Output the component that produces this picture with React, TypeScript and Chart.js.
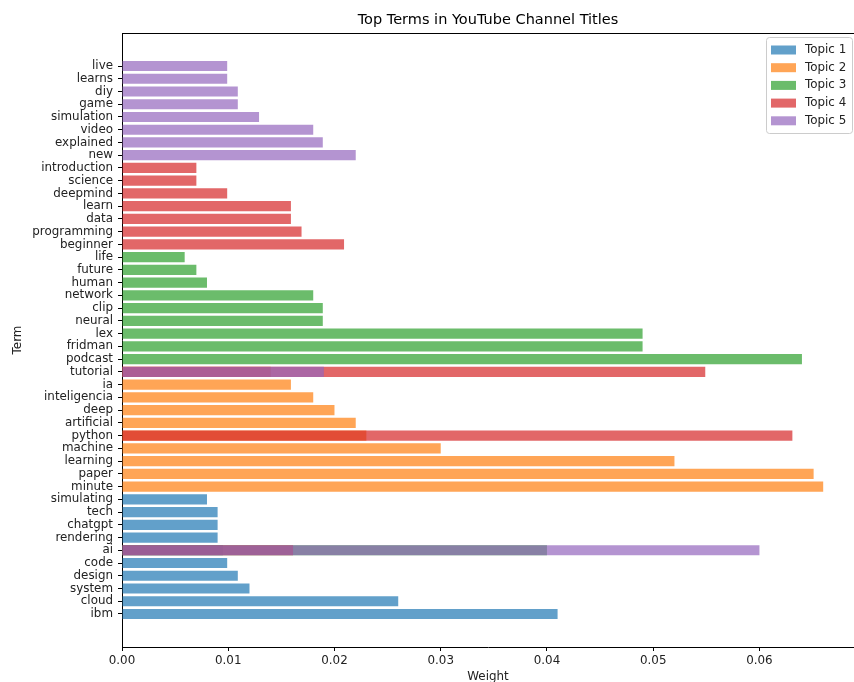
import { useEffect, useRef } from 'react';
import { Chart, registerables } from 'chart.js';

Chart.register(...registerables);

const topicNames = ['Topic 1', 'Topic 2', 'Topic 3', 'Topic 4', 'Topic 5'];
const topicColors = [
  'rgba(31,119,180,0.7)',
  'rgba(255,127,14,0.7)',
  'rgba(44,160,44,0.7)',
  'rgba(214,39,40,0.7)',
  'rgba(148,103,189,0.7)',
];

const topic1Terms = ['ibm', 'cloud', 'system', 'design', 'code', 'ai', 'rendering', 'chatgpt', 'tech', 'simulating'];
const topic1Weights = [0.041, 0.026, 0.012, 0.0109, 0.0099, 0.0095, 0.009, 0.009, 0.009, 0.008];

const topic2Terms = ['minute', 'paper', 'learning', 'machine', 'python', 'artificial', 'deep', 'inteligencia', 'ia', 'tutorial'];
const topic2Weights = [0.066, 0.0651, 0.052, 0.030, 0.023, 0.022, 0.020, 0.018, 0.0159, 0.014];

const topic3Terms = ['podcast', 'fridman', 'lex', 'ai', 'neural', 'clip', 'network', 'human', 'future', 'life'];
const topic3Weights = [0.064, 0.049, 0.049, 0.040, 0.0189, 0.0189, 0.018, 0.008, 0.007, 0.0059];

const topic4Terms = ['python', 'tutorial', 'beginner', 'programming', 'ai', 'data', 'learn', 'deepmind', 'science', 'introduction'];
const topic4Weights = [0.0631, 0.0549, 0.0209, 0.0169, 0.0161, 0.0159, 0.0159, 0.0099, 0.007, 0.007];

const topic5Terms = ['ai', 'new', 'tutorial', 'explained', 'video', 'simulation', 'game', 'diy', 'learns', 'live'];
const topic5Weights = [0.060, 0.022, 0.019, 0.0189, 0.018, 0.0129, 0.0109, 0.0109, 0.0099, 0.0099];

const xTickValues = [0, 0.01, 0.02, 0.03, 0.04, 0.05, 0.06];

const FONT_FAMILY = '"DejaVu Sans", sans-serif';
const TEXT_COLOR = '#222';

export default function App() {
  const canvasRef = useRef<HTMLCanvasElement>(null);

  useEffect(() => {
    document.body.style.margin = '0';
    const topics = [
      { terms: topic1Terms, weights: topic1Weights },
      { terms: topic2Terms, weights: topic2Weights },
      { terms: topic3Terms, weights: topic3Weights },
      { terms: topic4Terms, weights: topic4Weights },
      { terms: topic5Terms, weights: topic5Weights },
    ];
    const terms: string[] = [];
    topics.forEach((t) => t.terms.forEach((term) => { if (!terms.includes(term)) terms.push(term); }));

    const n = terms.length;
    const span = (n - 1) + 0.8;
    const yMin = -0.4 - 0.05 * span;
    const yMax = n - 1 + 0.4 + 0.05 * span;

    const datasets = topics.map((t, k) => ({
      label: topicNames[k],
      data: t.terms.map((term, j) => ({ x: t.weights[j], y: terms.indexOf(term) })),
      backgroundColor: topicColors[k],
      borderWidth: 0,
      grouped: false,
      order: topics.length - k,
      barPercentage: 0.8,
      categoryPercentage: 1,
    }));

    const tickFont = { family: FONT_FAMILY, size: 11.9 };

    const legendPlugin = {
      id: 'boxLegend',
      afterDraw(chart: any) {
        const { ctx, chartArea } = chart;
        const w = 86;
        const h = 96;
        const x0 = chartArea.right - w - 2;
        const y0 = chartArea.top + 4;
        ctx.save();
        ctx.beginPath();
        ctx.roundRect(x0 + 0.5, y0 + 0.5, w, h, 3);
        ctx.fillStyle = 'rgba(255,255,255,0.8)';
        ctx.fill();
        ctx.strokeStyle = '#cccccc';
        ctx.lineWidth = 1;
        ctx.stroke();
        chart.data.datasets.forEach((ds: any, i: number) => {
          const cy = y0 + 13 + i * 17.7;
          ctx.fillStyle = ds.backgroundColor;
          ctx.fillRect(x0 + 5, cy - 4.5, 25, 9);
          ctx.fillStyle = TEXT_COLOR;
          ctx.font = `11.9px ${FONT_FAMILY}`;
          ctx.textBaseline = 'middle';
          ctx.textAlign = 'left';
          ctx.fillText(ds.label, x0 + 39, cy);
        });
        ctx.restore();
      },
    };

    const topSpinePlugin = {
      id: 'topSpine',
      afterDraw(chart: any) {
        const { ctx, chartArea } = chart;
        ctx.save();
        ctx.strokeStyle = '#000';
        ctx.lineWidth = 1;
        ctx.beginPath();
        ctx.moveTo(chartArea.left, Math.round(chartArea.top) + 0.5);
        ctx.lineTo(chartArea.right, Math.round(chartArea.top) + 0.5);
        ctx.stroke();
        ctx.restore();
      },
    };

    const chart = new Chart(canvasRef.current as HTMLCanvasElement, {
      type: 'bar',
      data: { datasets: datasets as any },
      options: {
        animation: false,
        responsive: true,
        maintainAspectRatio: false,
        indexAxis: 'y',
        layout: { padding: 0 },
        plugins: {
          legend: { display: false },
          tooltip: { enabled: false },
          title: {
            display: true,
            fullSize: false,
            text: 'Top Terms in YouTube Channel Titles',
            color: '#000',
            font: { family: FONT_FAMILY, size: 14.5, weight: 'normal' as any },
            padding: { top: 11.5, bottom: 4.1 },
          },
        },
        scales: {
          x: {
            type: 'linear',
            min: 0,
            max: 0.0689,
            offset: false,
            afterBuildTicks: (scale: any) => {
              scale.ticks = xTickValues.map((v) => ({ value: v }));
            },
            afterFit: (scale: any) => {
              scale.height = 35;
              scale.paddingLeft = 0;
              scale.paddingRight = 0;
            },
            ticks: {
              callback: (v: any) => Number(v).toFixed(2),
              font: tickFont,
              color: TEXT_COLOR,
              padding: 3,
              maxRotation: 0,
              autoSkip: false,
            },
            grid: { drawOnChartArea: false, offset: false, tickLength: 4, color: '#000' },
            border: { color: '#000' },
            title: {
              display: true,
              text: 'Weight',
              color: TEXT_COLOR,
              font: tickFont,
              padding: { top: 0, bottom: -2 },
            },
          },
          y: {
            type: 'linear',
            min: yMin,
            max: yMax,
            offset: false,
            afterBuildTicks: (scale: any) => {
              scale.ticks = terms.map((_, i) => ({ value: i }));
            },
            afterFit: (scale: any) => {
              scale.width = 122;
              scale.paddingTop = 0;
              scale.paddingBottom = 0;
            },
            ticks: {
              autoSkip: false,
              callback: (v: any) => terms[v as number] ?? '',
              font: tickFont,
              color: TEXT_COLOR,
              padding: 5,
            },
            grid: { drawOnChartArea: false, offset: false, tickLength: 4, color: '#000' },
            border: { color: '#000' },
            title: {
              display: true,
              text: 'Term',
              color: TEXT_COLOR,
              font: tickFont,
              padding: { top: 11, bottom: 0 },
            },
          },
        },
      },
      plugins: [topSpinePlugin, legendPlugin],
    });

    return () => chart.destroy();
  }, []);

  return (
    <div style={{ width: 854, height: 682, position: 'relative' }}>
      <canvas ref={canvasRef} />
    </div>
  );
}
